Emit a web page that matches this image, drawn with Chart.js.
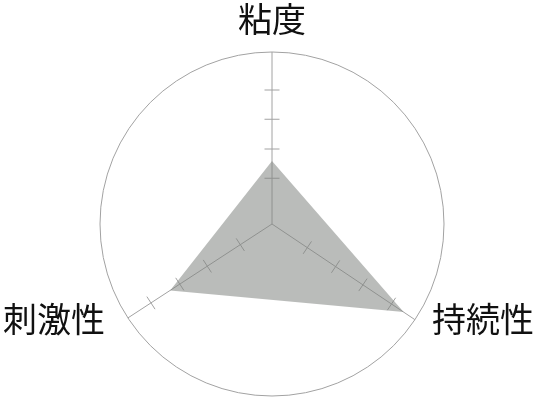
<!DOCTYPE html>
<html>
<head>
<meta charset="utf-8">
<script src="https://cdn.jsdelivr.net/npm/chart.js@4.4.1/dist/chart.umd.min.js"></script>
<style>
  html, body { margin:0; padding:0; background:#fff; }
  #wrap { width:543px; height:403px; }
</style>
</head>
<body>
<div id="wrap"><canvas id="c" width="543" height="403"></canvas></div>
<script>
// axes (clockwise from top) and values on a 0-100 scale
const labels = ['粘度', '持続性', '刺激性']
const values = [36.6, 92.1, 70.7]
// tick marks drawn on each axis, same 0-100 scale
const ticksTop   = [26.6, 43.6, 60.9, 77.9]
const ticksRight = [24.7, 44.5, 63.6, 83.6]
const ticksLeft  = [22.0, 44.9, 64.0, 84.0]

// the axes in the picture are not evenly spread, so angles are set per axis (deg from top)
const AXIS_DEG = [0, 123.8, 236.9]

class SkewedRadialScale extends Chart.RadialLinearScale {
  getIndexAngle(index) {
    return AXIS_DEG[index] * Math.PI / 180
  }
}
SkewedRadialScale.id = 'skewedRadial'
SkewedRadialScale.defaults = Chart.RadialLinearScale.defaults
Chart.register(SkewedRadialScale)

const lineCol = '#a2a2a2'
const font = '"Noto Sans CJK JP", "Noto Sans CJK SC", sans-serif'

const axisTicks = {
  id: 'axisTicks',
  beforeDatasetsDraw(chart) {
    const r = chart.scales.r, ctx = chart.ctx, L = 7.5
    ctx.save()
    ctx.strokeStyle = lineCol
    ctx.lineWidth = 1
    ;[ticksTop, ticksRight, ticksLeft].forEach((vals, i) => {
      const a = r.getIndexAngle(i) - Math.PI / 2
      const px = -Math.sin(a), py = Math.cos(a)
      vals.forEach(v => {
        const p = r.getPointPositionForValue(i, v)
        ctx.beginPath()
        ctx.moveTo(p.x - px * L, p.y - py * L)
        ctx.lineTo(p.x + px * L, p.y + py * L)
        ctx.stroke()
      })
    })
    ctx.restore()
  }
}

const axisLabels = {
  id: 'axisLabels',
  afterDraw(chart) {
    const r = chart.scales.r, ctx = chart.ctx
    ctx.save()
    ctx.fillStyle = '#111'
    ctx.font = '34px ' + font
    ctx.textBaseline = 'middle'
    let p = r.getPointPosition(0, r.drawingArea + 33)
    ctx.textAlign = 'center'
    ctx.fillText(labels[0], p.x, p.y)
    p = r.getPointPosition(1, r.drawingArea)
    ctx.textAlign = 'left'
    ctx.fillText(labels[1], p.x + 17, p.y - 1)
    p = r.getPointPosition(2, r.drawingArea)
    ctx.textAlign = 'right'
    ctx.fillText(labels[2], p.x - 23, p.y + 1)
    ctx.restore()
  }
}

new Chart(document.getElementById('c'), {
  type: 'radar',
  data: { labels, datasets: [{
    data: values,
    backgroundColor: 'rgba(128,132,128,0.54)',
    borderWidth: 0,
    pointRadius: 0,
    fill: true
  }]},
  options: {
    responsive: false,
    animation: false,
    devicePixelRatio: 1,
    layout: { padding: { left:100, right:99, top:52, bottom:7 } },
    plugins: { legend: { display:false }, tooltip: { enabled:false } },
    scales: { r: {
      type: 'skewedRadial',
      min: 0, max: 100,
      ticks: { display:false, stepSize:100 },
      grid: { circular:true, color:lineCol, lineWidth:1 },
      angleLines: { display:true, color:lineCol, lineWidth:1 },
      pointLabels: { display:false }
    }}
  },
  plugins: [axisTicks, axisLabels]
})
</script>
</body>
</html>
